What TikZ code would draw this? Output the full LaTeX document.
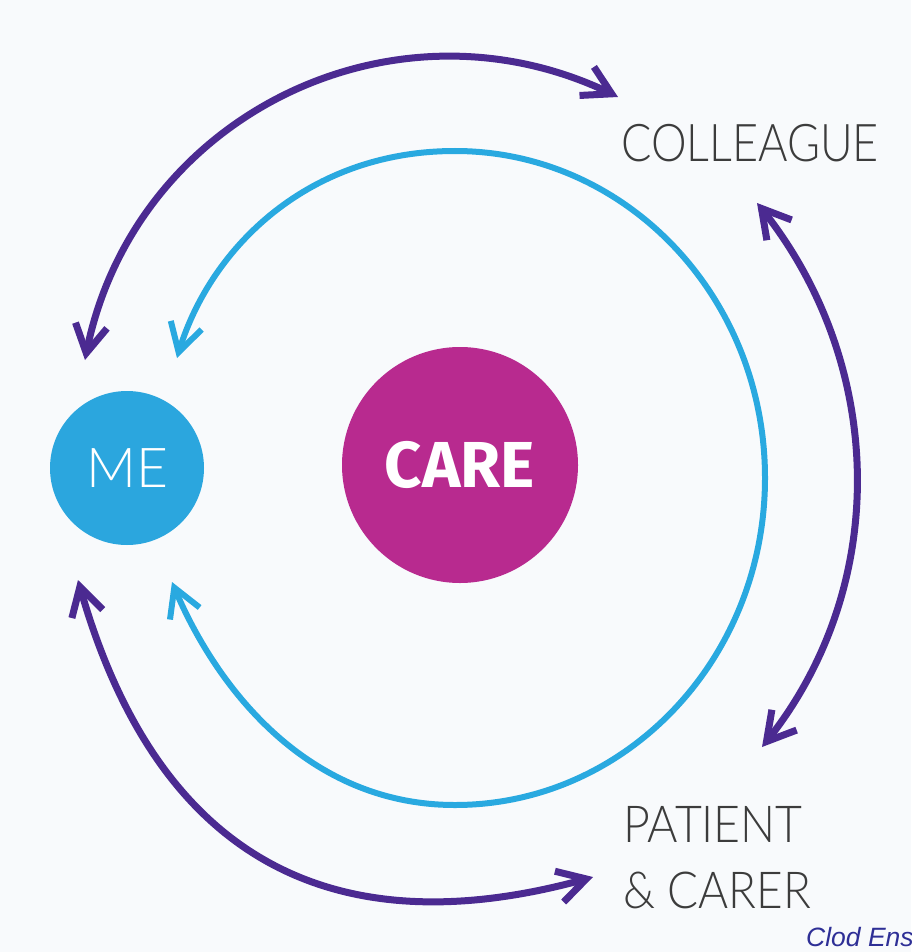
\documentclass[tikz,border=0pt]{standalone}
\usepackage{fontspec}
\usepackage{graphicx}
\usetikzlibrary{arrows.meta,bending}
\IfFontExistsTF{Lato Light}{\newfontfamily\thinfont{Lato Light}}{\newfontfamily\thinfont{Lato}}
\newfontfamily\carefont{Fira Sans}
\newfontfamily\wmfont{Liberation Sans}
\definecolor{bgcol}{HTML}{F8FAFC}
\definecolor{arrowpurple}{HTML}{4B2A91}
\definecolor{linecyan}{HTML}{29A9E0}
\definecolor{meblue}{HTML}{2BA6DE}
\definecolor{caremag}{HTML}{B82A8F}
\definecolor{textgrey}{HTML}{3C3C3C}
\definecolor{wmblue}{HTML}{2E2F96}
\tikzset{
  bararrow/.style={>={Straight Barb[length=28pt,width=32pt]}, line cap=round, line join=round},
  purplearc/.style={bararrow, draw=arrowpurple, line width=7pt, <->},
  cyanarc/.style={bararrow, draw=linecyan, line width=6pt, <->},
  bubble/.style={circle, inner sep=0pt, text=white},
  label/.style={anchor=base west, inner sep=0pt, text=textgrey, align=left}
}
\begin{document}
\begin{tikzpicture}[x=1pt,y=-1pt]
\useasboundingbox (0,0) rectangle (911,952);
\fill[bgcol] (0,0) rectangle (911,952);

% nodes
\node[bubble, fill=meblue, minimum size=154pt, font=\thinfont\fontsize{55}{60}\selectfont] (me) at (127,468) {\raisebox{-5pt}{ME}};
\node[bubble, fill=caremag, minimum size=236pt, font=\carefont\bfseries\fontsize{65}{70}\selectfont] (care) at (460,465) {\raisebox{-5pt}{CARE}};
\node[label, font=\thinfont\fontsize{52}{60}\selectfont] (colleague) at (621,162) {\scalebox{0.865}[1]{COLLEAGUE}};
\node[label, font=\thinfont\fontsize{51}{66}\selectfont] (patient) at (623,908) {\scalebox{0.91}[1]{PATIENT}\\\scalebox{0.9}[1]{\& CARER}};
\node[anchor=base west, inner sep=0pt, text=wmblue, font=\wmfont\itshape\fontsize{26.5}{30}\selectfont] (wm) at (806,946) {Clod Ens};

% arrow end points
\coordinate (pt1) at (85,360);
\coordinate (pt2) at (618,97);
\coordinate (pr1) at (757,203);
\coordinate (pr2) at (762,747);
\coordinate (pb1) at (78,580);
\coordinate (pb2) at (593,877);
\coordinate (cy1) at (177,358);
\coordinate (cy2) at (172,582);
\coordinate (cyT) at (455,151);
\coordinate (cyR) at (765,478);
\coordinate (cyB) at (455,805);

% cyan loop around CARE
\draw[cyanarc] (cy1) .. controls (206,252) and (305,151) .. (cyT)
  .. controls (626,151) and (765,297) .. (cyR)
  .. controls (765,659) and (626,805) .. (cyB)
  .. controls (305,805) and (213,684) .. (cy2);

% purple double arrows
\draw[purplearc] (pt1) .. controls (128,116) and (397,-16) .. (pt2);
\draw[purplearc] (pr1) .. controls (887,360) and (893,589) .. (pr2);
\draw[purplearc] (pb1) .. controls (157,869) and (343,949) .. (pb2);
\end{tikzpicture}
\end{document}
